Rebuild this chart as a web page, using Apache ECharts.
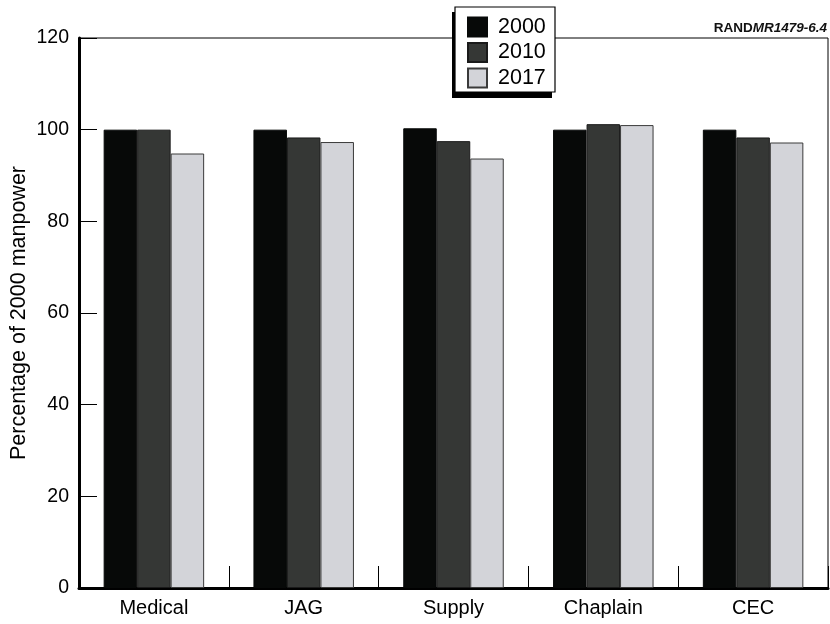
<!DOCTYPE html>
<html>
<head>
<meta charset="utf-8">
<script src="https://cdn.jsdelivr.net/npm/echarts@6/dist/echarts.min.js"></script>
<style>
  html, body { margin: 0; padding: 0; background: #ffffff; }
  #chart { width: 830px; height: 624px; }
</style>
</head>
<body>
<div id="chart"></div>
<script>
// Career fields and manpower relative to the 2000 level
const categories = ['Medical', 'JAG', 'Supply', 'Chaplain', 'CEC'];
const years = ['2000', '2010', '2017'];
const values2000 = [100, 100, 100.3, 100, 100];
const values2010 = [100, 98.3, 97.5, 101.2, 98.3];
const values2017 = [94.8, 97.3, 93.7, 101.0, 97.2];
const yTicks = [0, 20, 40, 60, 80, 100, 120];

const FONT = '"Liberation Sans", Arial, Helvetica, sans-serif';
const fills = ['#070908', '#353735', '#d3d4d9'];
const borders = ['#070908', '#1a1a1a', '#3a3a3a'];
const seriesValues = [values2000, values2010, values2017];

const chart = echarts.init(document.getElementById('chart'), null, { renderer: 'canvas' });

chart.setOption({
  animation: false,
  backgroundColor: '#ffffff',
  title: {
    text: '{b|RAND}{i|MR1479-6.4}',
    right: 3,
    top: 21,
    padding: 0,
    textStyle: {
      rich: {
        b: { fontFamily: FONT, fontWeight: 'bold', fontSize: 13.5, color: '#111' },
        i: { fontFamily: FONT, fontStyle: 'italic', fontSize: 13.5, color: '#111' }
      }
    }
  },
  grid: {
    left: 79, right: 2, top: 38, bottom: 36,
    outerBoundsMode: 'none',
    containLabel: false,
    show: true, borderColor: '#000', borderWidth: 1, backgroundColor: 'transparent'
  },
  graphic: [
    // legend frame with its offset shadow
    { type: 'rect', z: 5, shape: { x: 452, y: 12, width: 100, height: 86 }, style: { fill: '#000' } },
    { type: 'rect', z: 6, shape: { x: 455, y: 7, width: 100, height: 85 }, style: { fill: '#fff', stroke: '#000', lineWidth: 1.2 } }
  ],
  legend: {
    z: 10,
    orient: 'vertical',
    left: 467,
    top: 16,
    padding: 0,
    itemWidth: 19,
    itemHeight: 19,
    itemGap: 3.5,
    icon: 'rect',
    data: years,
    textStyle: { fontFamily: FONT, fontSize: 21.5, color: '#000', padding: [0, 0, 0, 6], lineHeight: 21 }
  },
  xAxis: {
    type: 'category',
    data: categories,
    boundaryGap: true,
    axisLine: { show: true, lineStyle: { color: '#000', width: 3 } },
    axisTick: { show: true, inside: true, length: 22, lineStyle: { color: '#000', width: 1 } },
    axisLabel: { fontFamily: FONT, fontSize: 20, color: '#000', margin: 10 }
  },
  yAxis: {
    type: 'value',
    min: yTicks[0],
    max: yTicks[yTicks.length - 1],
    interval: 20,
    name: 'Percentage of 2000 manpower',
    nameLocation: 'middle',
    nameGap: 49,
    nameMoveOverlap: false,
    nameTextStyle: { fontFamily: FONT, fontSize: 21.5, color: '#000' },
    axisLine: { show: true, lineStyle: { color: '#000', width: 3 } },
    axisTick: { show: true, inside: true, length: 18, lineStyle: { color: '#000', width: 1 } },
    axisLabel: { fontFamily: FONT, fontSize: 19.5, color: '#000', margin: 10 },
    splitLine: { show: false }
  },
  series: years.map((y, i) => ({
    name: y,
    type: 'bar',
    data: seriesValues[i],
    barWidth: 33.5,
    barGap: '0%',
    itemStyle: { color: fills[i], borderColor: borders[i], borderWidth: 1 }
  }))
});
</script>
</body>
</html>
